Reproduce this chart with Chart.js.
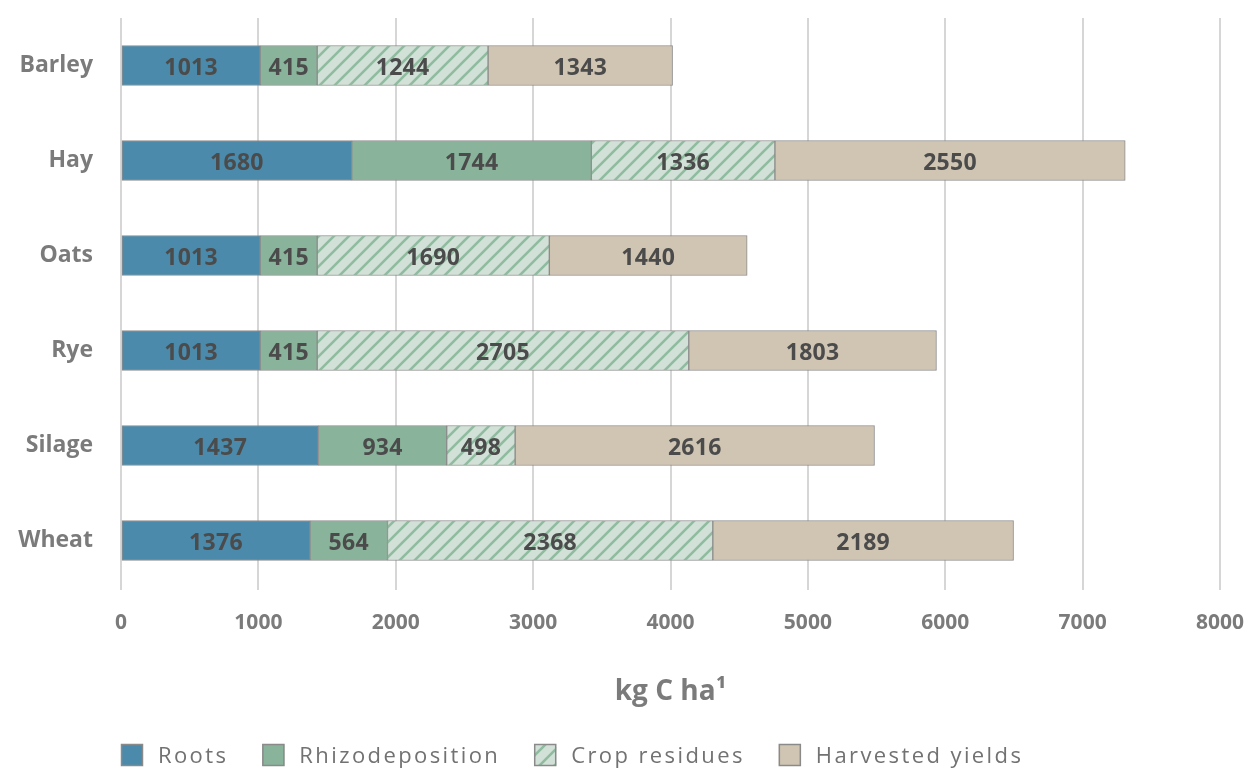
<!DOCTYPE html>
<html>
<head>
<meta charset="utf-8">
<script src="https://cdn.jsdelivr.net/npm/chart.js@4.4.1/dist/chart.umd.min.js"></script>
<style>
  html, body { margin: 0; padding: 0; background: #ffffff; overflow: hidden; }
  #wrap { width: 1253px; height: 769px; position: relative; }
</style>
</head>
<body>
<div id="wrap"><canvas id="chart" width="1253" height="769"></canvas></div>
<script>
// Carbon inputs by crop (kg C per hectare)
const crops = ['Barley', 'Hay', 'Oats', 'Rye', 'Silage', 'Wheat'];
const roots = [1013, 1680, 1013, 1013, 1437, 1376];
const rhizodeposition = [415, 1744, 415, 415, 934, 564];
const cropResidues = [1244, 1336, 1690, 2705, 498, 2368];
const harvestedYields = [1343, 2550, 1440, 1803, 2616, 2189];
const xTicks = [0, 1000, 2000, 3000, 4000, 5000, 6000, 7000, 8000];

const FONT = "'Open Sans', 'Liberation Sans', sans-serif";
const AXIS_GREY = '#7b7b7b';

// Diagonal hatch fill for crop residues
function hatchPattern() {
  const s = 15;
  const c = document.createElement('canvas');
  c.width = s; c.height = s;
  const g = c.getContext('2d');
  g.fillStyle = '#d2e1d7';
  g.fillRect(0, 0, s, s);
  g.strokeStyle = '#8fbb9f';
  g.lineWidth = 2.6;
  g.beginPath();
  g.moveTo(-2, s + 2); g.lineTo(s + 2, -2);
  g.moveTo(-2, 2); g.lineTo(2, -2);
  g.moveTo(s - 2, s + 2); g.lineTo(s + 2, s - 2);
  g.stroke();
  return g.createPattern(c, 'repeat');
}

const canvas = document.getElementById('chart');
const ctx = canvas.getContext('2d');
// slightly wider tracking for axis text
ctx.letterSpacing = '1.5px';
const hatch = hatchPattern();

// Value labels centred in each segment
const segmentLabels = {
  id: 'segmentLabels',
  afterDatasetsDraw(chart) {
    const c = chart.ctx;
    c.save();
    c.letterSpacing = '0.3px';
    c.font = `700 23px ${FONT}`;
    c.fillStyle = '#4b4b4b';
    c.textAlign = 'center';
    c.textBaseline = 'middle';
    chart.data.datasets.forEach((ds, di) => {
      const meta = chart.getDatasetMeta(di);
      meta.data.forEach((bar, i) => {
        const cx = (bar.x + bar.base) / 2;
        c.fillText(String(ds.data[i]), cx, bar.y + 3);
      });
    });
    c.restore();
  }
};

// Legend row along the bottom, starting at the plot's left edge
const bottomLegend = {
  id: 'bottomLegend',
  afterDraw(chart) {
    const c = chart.ctx;
    c.save();
    c.letterSpacing = '2.4px';
    c.font = `400 22px ${FONT}`;
    c.textBaseline = 'middle';
    let x = chart.chartArea.left;
    const boxY = 744, box = 22, textY = 757;
    chart.data.datasets.forEach((ds) => {
      c.fillStyle = ds.backgroundColor;
      c.fillRect(x, boxY, box, box);
      c.strokeStyle = '#8a8a8a';
      c.lineWidth = 1.5;
      c.strokeRect(x + 0.5, boxY + 0.5, box - 1, box - 1);
      c.fillStyle = '#727272';
      const tx = x + 37;
      c.fillText(ds.label, tx, textY);
      x = tx + c.measureText(ds.label).width + 34;
    });
    c.restore();
  }
};

const mk = (label, data, color) => ({
  label, data,
  backgroundColor: color,
  borderColor: '#8c8c8c',
  borderWidth: 1,
  borderSkipped: false,
  barThickness: 40
});

new Chart(ctx, {
  type: 'bar',
  data: {
    labels: crops,
    datasets: [
      mk('Roots', roots, '#4b8aab'),
      mk('Rhizodeposition', rhizodeposition, '#89b39a'),
      mk('Crop residues', cropResidues, hatch),
      mk('Harvested yields', harvestedYields, '#d0c5b3')
    ]
  },
  options: {
    indexAxis: 'y',
    responsive: false,
    animation: false,
    events: [],
    layout: { padding: { left: 0, right: 33, top: 18, bottom: 60 } },
    plugins: {
      legend: { display: false },
      tooltip: { enabled: false },
      title: { display: false }
    },
    scales: {
      x: {
        stacked: true,
        min: 0,
        max: 8000,
        z: 1,
        afterBuildTicks(scale) { scale.ticks = xTicks.map(v => ({ value: v })); },
        afterFit(scale) {
          scale.height = 121;
          scale.paddingLeft = 0;
          scale.paddingRight = 0;
        },
        grid: {
          color: 'rgba(120,120,120,0.3)',
          lineWidth: 2,
          drawTicks: true,
          tickLength: 2
        },
        border: { display: false },
        ticks: {
          color: AXIS_GREY,
          font: { family: FONT, size: 21, weight: '700' },
          padding: 20,
          maxRotation: 0,
          callback: (v) => String(v)
        },
        title: {
          display: true,
          text: 'kg C ha¹',
          color: AXIS_GREY,
          font: { family: FONT, size: 28, weight: '700' },
          padding: { top: 35, bottom: 0 }
        }
      },
      y: {
        stacked: true,
        afterFit(scale) {
          scale.width = 121;
          scale.paddingTop = 0;
          scale.paddingBottom = 0;
        },
        grid: { display: false, drawTicks: false },
        border: { display: false },
        ticks: {
          color: AXIS_GREY,
          font: { family: FONT, size: 23, weight: '700' },
          padding: 28
        }
      }
    }
  },
  plugins: [segmentLabels, bottomLegend]
});
</script>
</body>
</html>
